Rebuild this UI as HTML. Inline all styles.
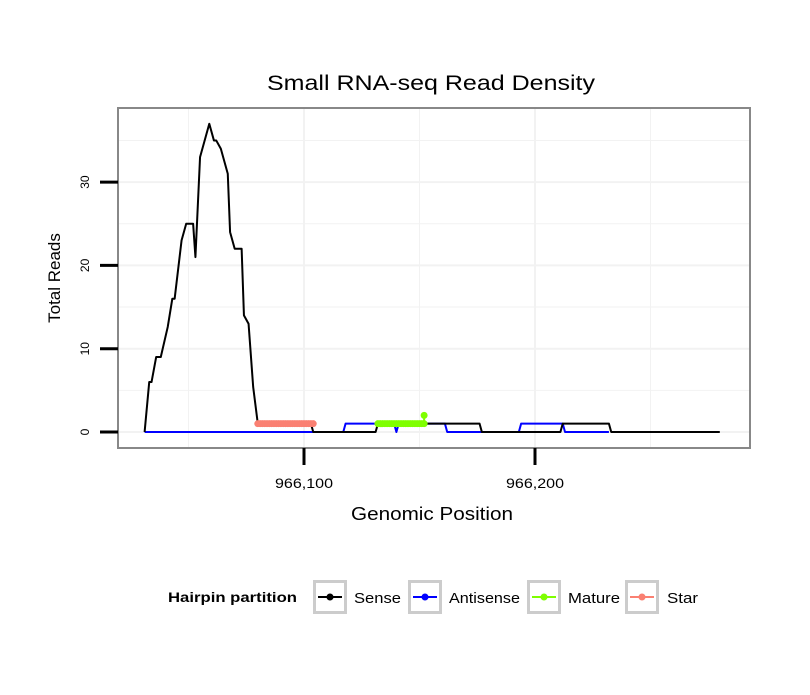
<!DOCTYPE html>
<html><head><meta charset="utf-8"><style>
body{margin:0;background:#fff;font-family:"Liberation Sans",sans-serif}
</style></head><body>
<svg id="chart" width="810" height="690" xmlns="http://www.w3.org/2000/svg" font-family="Liberation Sans, sans-serif">
<rect width="810" height="690" fill="#fff"/>
<text x="267" y="90" font-size="21" textLength="328" lengthAdjust="spacingAndGlyphs">Small RNA-seq Read Density</text>
<g id="grid"></g>
<g id="series"></g>
<rect x="118" y="108" width="632" height="340" fill="none" stroke="#888" stroke-width="2"/>
<g id="axes"></g>
<text x="351" y="520" font-size="18" textLength="162" lengthAdjust="spacingAndGlyphs">Genomic Position</text>
<text transform="translate(60,278) rotate(-90)" font-size="17" text-anchor="middle">Total Reads</text>
<g>
<text x="168" y="602" font-size="14" font-weight="bold" textLength="129" lengthAdjust="spacingAndGlyphs">Hairpin partition</text>
<g id="legend"></g>
</g>
</svg>
<script>
const senseX=[966031,966033,966034,966036,966038,966041,966043,966044,966047,966049,966052,966053,966055,966059,966061,966062,966064,966067,966068,966070,966073,966074,966076,966078,966080,966103,966104,966131,966132,966176,966177,966211,966212,966232,966233,966280];
const senseY=[0,6,6,9,9,12.6,16,16,23,25,25,21,33,37,35,35,34,31,24,22,22,14,13,5.4,1,1,0,0,1,1,0,0,1,1,0,0];
const antiX=[966031,966117,966118,966130,966139,966140,966141,966161,966162,966193,966194,966212,966213,966232];
const antiY=[0,0,1,1,1,0,1,1,0,0,1,1,0,0];
const matureX=[966132,966133,966134,966135,966136,966137,966138,966139,966140,966141,966142,966143,966144,966145,966146,966147,966148,966149,966150,966151,966152,966152];
const matureY=[1,1,1,1,1,1,1,1,1,1,1,1,1,1,1,1,1,1,1,1,1,2];
const starX=[966080,966081,966082,966083,966084,966085,966086,966087,966088,966089,966090,966091,966092,966093,966094,966095,966096,966097,966098,966099,966100,966101,966102,966103,966104];
const starY=[1,1,1,1,1,1,1,1,1,1,1,1,1,1,1,1,1,1,1,1,1,1,1,1,1];
const xTicks=[966100,966200];
const xTickLabels=["966,100","966,200"];
const yTicks=[0,10,20,30];
const legendLabels=["Sense","Antisense","Mature","Star"];
const legendColors=["#000","#00f","#7fff00","#fa8072"];

const NS="http://www.w3.org/2000/svg";
const xs=v=>304+(v-966100)*2.31;
const ys=v=>432-v*8.33;
function mk(tag,attrs,parent){const e=document.createElementNS(NS,tag);for(const k in attrs)e.setAttribute(k,attrs[k]);parent.appendChild(e);return e;}
const grid=document.getElementById('grid'),series=document.getElementById('series'),axes=document.getElementById('axes'),legend=document.getElementById('legend');
[0,5,10,15,20,25,30,35].forEach(v=>{const l=mk('line',{x1:118,x2:750,y1:ys(v),y2:ys(v),stroke:'#f2f2f2','stroke-width':v%10?1:2},grid);

});
[966050,966100,966150,966200,966250].forEach(v=>{const l=mk('line',{x1:xs(v),x2:xs(v),y1:108,y2:448,stroke:'#f2f2f2','stroke-width':v%100?1:2},grid);

});
function line(X,Y,color,name){const p=mk('polyline',{points:X.map((x,i)=>xs(x)+','+ys(Y[i])).join(' '),fill:'none',stroke:color,'stroke-width':2,'stroke-linejoin':'round'},series);

}
line(antiX,antiY,'#00f','antisense-line');
line(senseX,senseY,'#000','sense-line');
function pts(X,Y,color,name){line(X,Y,color,name+'-line');
X.forEach((x,i)=>{const c=mk('circle',{cx:xs(x),cy:ys(Y[i]),r:3.5,fill:color},series);

});}
pts(starX,starY,'#fa8072','star');
pts(matureX,matureY,'#7fff00','mature');
yTicks.forEach(v=>{const t=mk('line',{x1:100,x2:118,y1:ys(v),y2:ys(v),stroke:'#000','stroke-width':3},axes);


const tx=mk('text',{transform:`translate(89,${ys(v)}) rotate(-90)`,'font-size':12,'text-anchor':'middle'},axes);tx.textContent=v;

});
xTicks.forEach((v,i)=>{const t=mk('line',{x1:xs(v),x2:xs(v),y1:448,y2:465,stroke:'#000','stroke-width':3},axes);


const tx=mk('text',{x:xs(v)-29,y:488,'font-size':14,textLength:58,lengthAdjust:'spacingAndGlyphs'},axes);tx.textContent=xTickLabels[i];

});
const boxX=[313,408,527,625];
const labX=[354,449,568,667];
const labW=[47,71,52,31];
legendLabels.forEach((lab,i)=>{const g=mk('g',{},legend);


mk('rect',{x:boxX[i]+1.5,y:581.5,width:31,height:31,fill:'#fff',stroke:'#ccc','stroke-width':3},g);
mk('line',{x1:boxX[i]+5,x2:boxX[i]+29,y1:597,y2:597,stroke:legendColors[i],'stroke-width':2},g);
mk('circle',{cx:boxX[i]+17,cy:597,r:3.5,fill:legendColors[i]},g);
const t=mk('text',{x:labX[i],y:603,'font-size':15,textLength:labW[i],lengthAdjust:'spacingAndGlyphs'},g);t.textContent=lab;});
</script>
</body></html>
